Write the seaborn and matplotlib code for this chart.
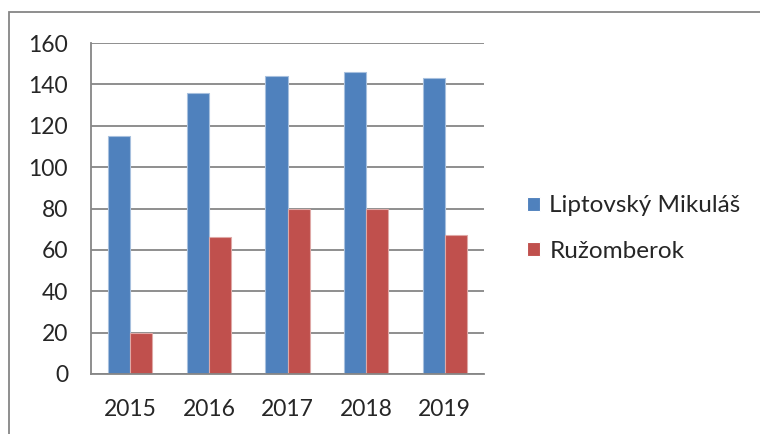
import pandas as pd
import matplotlib
matplotlib.use("Agg")
import matplotlib.pyplot as plt
from matplotlib.patches import Rectangle
import seaborn as sns

# -------------------------
# Datos
# -------------------------
roky = ["2015", "2016", "2017", "2018", "2019"]
liptovsky_mikulas = [115, 136, 144, 146, 143]
ruzomberok = [20, 66, 80, 80, 67]
mesta = ["Liptovský Mikuláš", "Ružomberok"]
farby = ["#4F81BD", "#C0504D"]
okraje = ["#A7C0DE", "#DFA8A6"]
y_ticks = [0, 20, 40, 60, 80, 100, 120, 140, 160]

df = pd.DataFrame({
    "rok": roky * 2,
    "hodnota": liptovsky_mikulas + ruzomberok,
    "mesto": [mesta[0]] * len(roky) + [mesta[1]] * len(roky),
})

# -------------------------
# Graf
# -------------------------
sns.set_style("white")
plt.rcParams["font.family"] = ["Lato", "DejaVu Sans"]
plt.rcParams["font.size"] = 16.5

sivá = "#868686"

fig = plt.figure(figsize=(7.6, 4.34), dpi=100)
ax = fig.add_axes([91 / 760, 1 - 374 / 434, (484 - 91) / 760, (374 - 43) / 434])

sns.barplot(
    data=df, x="rok", y="hodnota", hue="mesto",
    palette=farby, width=0.56, saturation=1, linewidth=0.8, ax=ax,
)
for cont, okraj in zip(ax.containers, okraje):
    for bar in cont:
        bar.set_edgecolor(okraj)

ax.set_ylim(0, 160)
ax.set_xlim(-0.5, len(roky) - 0.5)
ax.set_yticks(y_ticks)
ax.set_xlabel("")
ax.set_ylabel("")

ax.yaxis.grid(True, color=sivá, linewidth=1.3)
ax.set_axisbelow(True)
for s in ["top", "right"]:
    ax.spines[s].set_visible(False)
for s in ["left", "bottom"]:
    ax.spines[s].set_color(sivá)
    ax.spines[s].set_linewidth(1.3)

ax.tick_params(axis="y", length=6.5, width=1.3, color=sivá, pad=10, labelsize=16.5)
ax.tick_params(axis="x", which="major", length=0, pad=18, labelsize=16.5)
ax.set_xticks([i - 0.5 for i in range(len(roky) + 1)], minor=True)
ax.tick_params(axis="x", which="minor", length=6.5, width=1.3, color=sivá)

ax.get_legend().remove()
handles, labels = ax.get_legend_handles_labels()
fig.legend(
    handles, labels, loc="center left",
    bbox_to_anchor=(527 / 760, 1 - 228.5 / 434),
    frameon=False, borderpad=0, borderaxespad=0,
    handlelength=0.52, handleheight=0.52, handletextpad=0.4,
    labelspacing=1.0, fontsize=17.5,
)

# rámček okolo grafu
fig.patches.append(Rectangle(
    (9 / 760, -0.1), 1.2, 1 - 12.5 / 434 + 0.1,
    transform=fig.transFigure, fill=False, edgecolor=sivá, linewidth=1.3,
))

fig.savefig("out.png", dpi=100)
